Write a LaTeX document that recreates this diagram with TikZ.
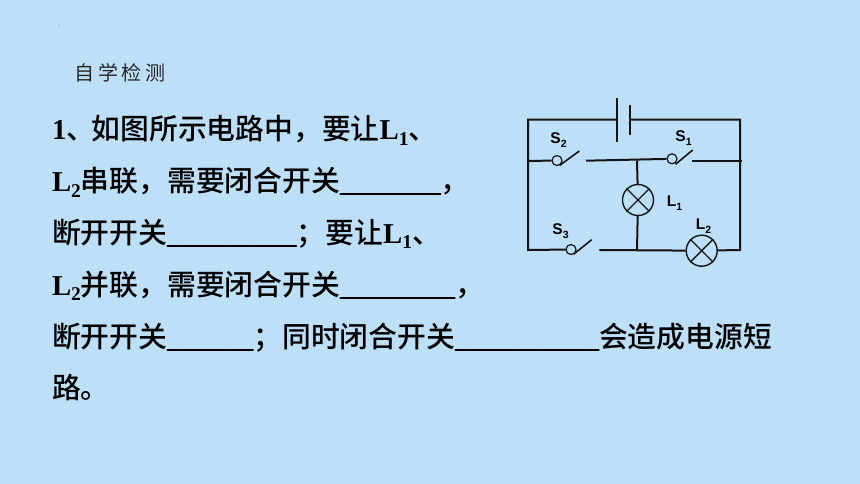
\documentclass[tikz,border=0pt]{standalone}
\usepackage{fontspec}
\setmainfont{Liberation Serif}
\newfontfamily\cjk{Noto Sans CJK SC}
\newfontfamily\cjkm{Noto Sans CJK SC Medium}
\newfontfamily\latb{Liberation Serif Bold}
\newfontfamily\arial{Liberation Sans Bold}
\definecolor{bgblue}{HTML}{BDE0F8}
\definecolor{wire}{HTML}{141414}
\newcommand{\LL}[1]{{\latb L\raisebox{-0.2em}{\fontsize{19.5}{19.5}\selectfont #1}}}
\newcommand{\blank}[1]{{\latb\foreach \i in {1,...,#1}{\_}}}
\tikzset{
  body/.style={anchor=base west,inner sep=0pt,outer sep=0pt,font=\fontsize{28.8}{30}\selectfont\cjkm,text=black},
  head/.style={anchor=base west,inner sep=0pt,outer sep=0pt,font=\fontsize{20}{20}\selectfont\cjk,text=black!85},
  cw/.style={line width=2pt,draw=wire},
  contact/.style={circle,draw=wire,line width=1.2pt,minimum size=10pt,inner sep=0pt,fill=bgblue},
  lamp/.style={circle,draw=wire,line width=1.4pt,minimum size=31pt,inner sep=0pt},
  lab/.style={inner sep=0pt,font=\fontsize{15.5}{15.5}\selectfont\arial,text=black},
}
\newcommand{\sw}[2]{#1\raisebox{-0.25em}{\fontsize{10.5}{10.5}\selectfont #2}}
\begin{document}
\begin{tikzpicture}[x=1pt,y=-1pt]
\fill[bgblue] (0,0) rectangle (860,484);
\useasboundingbox (0,0) rectangle (860,484);
\fill[black!60] (59,25.7) circle (0.5);
% texts
\node[head] (t0) at (74.5,81) {自\hspace{3.5pt}学\hspace{3.5pt}检\hspace{3.5pt}测};
\node[body] (t1) at (52,140) {{\latb 1}、\hspace{-3.5pt}如图所示电路中，要让\LL{1}、};
\node[body] (t2) at (52,192) {\LL{2}串联，需要闭合开关\blank{7}，};
\node[body] (t3) at (52,243) {断开开关\blank{9}；要让\LL{1}、};
\node[body] (t4) at (52,295) {\LL{2}并联，需要闭合开关\blank{8}，};
\node[body] (t5) at (52,347) {断开开关\blank{6}；同时闭合开关\blank{10}会造成电源短};
\node[body] (t6) at (52,398) {路。};
% circuit nodes
\coordinate (tl) at (528,119.7);
\coordinate (tr) at (740,119.7);
\coordinate (bl) at (528,250);
\coordinate (br) at (740,250);
\coordinate (ml) at (528,161);
\coordinate (mr) at (741.5,161);
\coordinate (batL) at (616.7,119.7);
\coordinate (batLt) at (616.7,97.7);
\coordinate (batLb) at (616.7,142.3);
\coordinate (batS) at (630.3,119.7);
\coordinate (batSt) at (630.3,105);
\coordinate (batSb) at (630.3,135);
\node[contact] (s2) at (557,160.5) {};
\node[contact] (s1) at (672,158.8) {};
\node[contact] (s3) at (571,249.5) {};
\node[lamp] (l1) at (638,200) {};
\node[lamp] (l2) at (701.7,250.7) {};
\coordinate (s2t) at (579.3,151);
\coordinate (s2b) at (559.5,165.5);
\coordinate (s1t) at (692.7,150);
\coordinate (s1b) at (675.5,164.3);
\coordinate (s3t) at (591.7,239.7);
\coordinate (s3b) at (573.5,254.3);
\coordinate (m1) at (586,160.7);
\coordinate (j1) at (637,160.7);
\coordinate (m2) at (691.7,161);
\coordinate (b1) at (599.3,250);
\coordinate (j2) at (637,250);
% wires
\draw[cw,line cap=round] (batL) -- (tl) -- (bl) -- (s3);
\draw[cw] (batS) -- (tr) -- (br) -- (l2);
\draw[cw] (batLt) -- (batLb);
\draw[cw] (batSt) -- (batSb);
\draw[cw] (ml) -- (s2);
\draw[cw] (m1) -- (s1);
\draw[cw] (m2) -- (mr);
\draw[cw] (j1) -- (l1);
\draw[cw] (l1) -- (j2);
\draw[cw] (b1) -- (l2);
\draw[cw,line width=1.6pt] (s2b) -- (s2t);
\draw[cw,line width=1.6pt] (s1b) -- (s1t);
\draw[cw,line width=1.6pt] (s3b) -- (s3t);
\foreach \n in {l1,l2}{
  \draw[wire,line width=1.4pt] (\n.45) -- (\n.225);
  \draw[wire,line width=1.4pt] (\n.135) -- (\n.315);
}
\node[lab] (ls2) at (558.5,140.5) {\sw{S}{2}};
\node[lab] (ls1) at (683.5,138.5) {\sw{S}{1}};
\node[lab] (ls3) at (560.5,231) {\sw{S}{3}};
\node[lab] (ll1) at (674.5,203) {\sw{L}{1}};
\node[lab] (ll2) at (703.5,226) {\sw{L}{2}};
\end{tikzpicture}
\end{document}
